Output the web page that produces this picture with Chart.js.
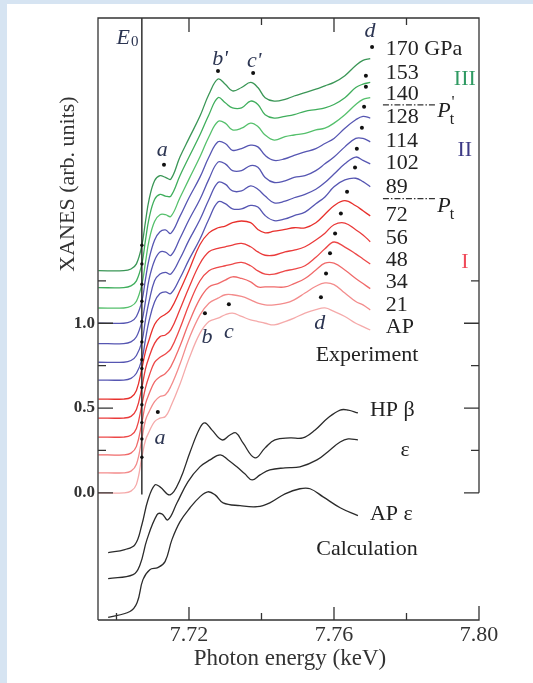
<!DOCTYPE html>
<html>
<head>
<meta charset="utf-8">
<script src="https://cdn.jsdelivr.net/npm/chart.js@4.4.1/dist/chart.umd.min.js"></script>
<style>
  html, body { margin: 0; padding: 0; background: #fff; }
  #frame { position: absolute; left: 0; top: 0; width: 526px; height: 679px;
           border-left: 7px solid #d6e4f2; border-top: 4px solid #d6e4f2; }
  #myChart { position: absolute; left: 0; top: 0; }
</style>
</head>
<body>
<div id="frame"></div>
<canvas id="myChart" width="533" height="683"></canvas>
<script>
// photon energy grid (keV) shared by the experimental spectra
const energy = [7.695, 7.702, 7.704, 7.7055, 7.707, 7.708, 7.709, 7.7105, 7.712, 7.7135, 7.715, 7.7175,
  7.720, 7.723, 7.7255, 7.728, 7.730, 7.732, 7.7345, 7.737, 7.739, 7.741, 7.7435, 7.7465, 7.749,
  7.752, 7.755, 7.7575, 7.760, 7.763, 7.766, 7.768, 7.770];
const E0 = 7.707;

// experiment, pressure labels and vertical offsets (arb. units)
const pressures = ['170 GPa', '153', '140', '128', '114', '102', '89', '72', '56', '48', '34', '21', 'AP'];
const offsets = [1.31, 1.21, 1.09, 1.0, 0.88, 0.77, 0.665, 0.553, 0.441, 0.329, 0.224, 0.118, 0];
const colors = ['#3a9656', '#3fae5c', '#55c06c', '#5656b2', '#5656b2', '#5656b2', '#5656b2',
  '#e8302c', '#ea3a3a', '#ed4848', '#f06a6a', '#f38c8c', '#f5aaaa'];

const x170 = [0,0,0.01,0.04,0.15,0.29,0.42,0.53,0.56,0.55,0.54,0.67,0.78,0.91,1.04,1.13,1.1,1.06,1.08,1.11,1.08,1.02,1.0,1.01,1.03,1.05,1.07,1.09,1.11,1.15,1.21,1.24,1.25];
const x153 = [0,0,0.01,0.04,0.14,0.28,0.41,0.52,0.55,0.54,0.54,0.66,0.77,0.9,1.02,1.12,1.09,1.06,1.06,1.1,1.08,1.02,1.0,1.01,1.02,1.04,1.05,1.06,1.08,1.12,1.18,1.2,1.21];
const x140 = [0,0,0.01,0.04,0.14,0.27,0.4,0.51,0.55,0.55,0.54,0.65,0.76,0.89,1.01,1.1,1.09,1.05,1.06,1.09,1.07,1.02,0.99,1.01,1.02,1.03,1.05,1.06,1.09,1.14,1.2,1.23,1.24];
const x128 = [0,0,0.01,0.04,0.13,0.26,0.38,0.49,0.54,0.55,0.53,0.63,0.74,0.86,0.98,1.07,1.06,1.02,1.03,1.05,1.04,0.99,0.96,0.97,0.99,1.01,1.03,1.06,1.09,1.15,1.2,1.22,1.21];
const x114 = [0,0,0.01,0.04,0.13,0.25,0.38,0.49,0.54,0.54,0.52,0.62,0.73,0.85,0.97,1.07,1.06,1.02,1.02,1.05,1.04,0.98,0.95,0.96,0.98,0.99,1.02,1.06,1.1,1.16,1.21,1.21,1.19];
const x102 = [0,0,0.01,0.04,0.12,0.25,0.36,0.48,0.52,0.53,0.52,0.61,0.72,0.84,0.96,1.06,1.05,1.01,1.01,1.04,1.02,0.98,0.94,0.95,0.97,0.99,1.02,1.06,1.11,1.17,1.21,1.19,1.17];
const x89 = [0,0,0.01,0.04,0.12,0.24,0.35,0.46,0.51,0.52,0.51,0.6,0.71,0.83,0.95,1.05,1.04,1.01,1.01,1.03,1.02,0.97,0.94,0.95,0.97,0.99,1.04,1.08,1.14,1.18,1.19,1.17,1.14];
const x72 = [0,0,0.01,0.05,0.18,0.28,0.35,0.44,0.48,0.5,0.53,0.64,0.76,0.91,0.98,1.01,1.02,1.04,1.05,1.04,1.0,0.98,0.99,1.0,1.01,1.01,1.04,1.09,1.14,1.17,1.14,1.11,1.08];
const x56 = [0,0,0.01,0.05,0.18,0.29,0.36,0.44,0.48,0.49,0.52,0.64,0.77,0.91,0.98,1.0,1.01,1.02,1.03,1.01,0.98,0.96,0.96,0.98,0.99,1.01,1.05,1.09,1.14,1.15,1.11,1.08,1.04];
const x48 = [0,0,0.01,0.05,0.19,0.29,0.36,0.44,0.47,0.49,0.52,0.64,0.78,0.92,0.98,1.0,1.01,1.02,1.03,1.01,0.98,0.96,0.96,0.98,0.99,1.01,1.06,1.11,1.15,1.12,1.08,1.05,1.02];
const x34 = [0,0,0.01,0.05,0.19,0.3,0.36,0.43,0.46,0.48,0.52,0.64,0.78,0.92,0.99,1.01,1.03,1.05,1.04,1.02,0.99,0.99,0.99,0.99,1.01,1.04,1.09,1.13,1.13,1.09,1.04,1.01,0.98];
const x21 = [0,0,0.01,0.05,0.2,0.31,0.36,0.42,0.45,0.46,0.51,0.64,0.79,0.93,1.0,1.03,1.05,1.05,1.04,1.02,1.0,0.99,0.99,1.0,1.02,1.06,1.1,1.12,1.11,1.06,1.01,0.99,0.96];
const xAP = [0,0,0.01,0.05,0.21,0.31,0.36,0.42,0.44,0.45,0.51,0.64,0.79,0.94,1.01,1.03,1.05,1.06,1.04,1.02,1.01,1.0,0.99,1.01,1.03,1.06,1.08,1.09,1.07,1.04,1.0,0.98,0.96];
const spectra = [x170, x153, x140, x128, x114, x102, x89, x72, x56, x48, x34, x21, xAP];

// calculation (energy, value pairs)
const calcHPbeta = [[7.6977,-0.353],[7.7023,-0.335],[7.7051,-0.306],[7.7070,-0.188],[7.7087,-0.041],[7.7106,0.047],[7.7120,0.035],[7.7148,-0.012],[7.7175,0.076],[7.7203,0.241],[7.7230,0.382],[7.7244,0.412],[7.7263,0.371],[7.7291,0.312],[7.7313,0.341],[7.7330,0.353],[7.7349,0.294],[7.7382,0.206],[7.7410,0.265],[7.7437,0.312],[7.7479,0.324],[7.7514,0.324],[7.7548,0.371],[7.7583,0.441],[7.7617,0.488],[7.7639,0.488],[7.7666,0.471]];
const calcEps = [[7.6977,-0.506],[7.7046,-0.482],[7.7065,-0.424],[7.7084,-0.276],[7.7112,-0.129],[7.7125,-0.124],[7.7142,-0.159],[7.7167,-0.059],[7.7197,0.065],[7.7230,0.153],[7.7258,0.194],[7.7286,0.224],[7.7308,0.194],[7.7332,0.153],[7.7354,0.112],[7.7374,0.076],[7.7396,0.106],[7.7423,0.135],[7.7465,0.147],[7.7506,0.153],[7.7553,0.194],[7.7589,0.253],[7.7617,0.3],[7.7639,0.318],[7.7666,0.312]];
const calcAPeps = [[7.6977,-0.735],[7.7037,-0.7],[7.7057,-0.647],[7.7073,-0.512],[7.7092,-0.453],[7.7114,-0.441],[7.7134,-0.406],[7.7153,-0.276],[7.7175,-0.171],[7.7203,-0.088],[7.7230,-0.024],[7.7252,0.006],[7.7272,-0.012],[7.7294,-0.059],[7.7341,-0.076],[7.7388,-0.082],[7.7423,-0.059],[7.7465,-0.006],[7.7506,0.024],[7.7534,0.024],[7.7570,-0.024],[7.7617,-0.088],[7.7666,-0.135]];

// peak markers (dots)
const peakDots = [[7.7705,2.629],[7.7688,2.459],[7.7688,2.394],[7.7683,2.276],[7.7677,2.153],[7.7663,2.029],[7.7658,1.918],[7.7636,1.776],[7.7619,1.647],[7.7603,1.529],[7.7589,1.412],[7.7578,1.294],[7.7564,1.153],
  [7.7280,2.488],[7.7377,2.476],[7.7131,1.935],[7.7244,1.059],[7.7310,1.112],[7.7114,0.476]];

// phase boundaries drawn as dash-dot lines next to the labels
const phaseLines = [2.288, 1.735];

const datasets = [];
spectra.forEach(function(s, i){
  datasets.push({
    data: energy.map((e, k) => ({x: e, y: offsets[i] + s[k]})),
    borderColor: colors[i], borderWidth: 1.3, fill: false, tension: 0.4,
    pointRadius: ctx => energy[ctx.dataIndex] === E0 ? 1.7 : 0,
    pointBackgroundColor: '#111', pointBorderWidth: 0, order: 2
  });
});
[calcHPbeta, calcEps, calcAPeps].forEach(function(c){
  datasets.push({
    data: c.map(p => ({x: p[0], y: p[1]})),
    borderColor: '#2b2b2b', borderWidth: 1.3, fill: false, tension: 0.4,
    pointRadius: 0, order: 2
  });
});
datasets.push({ // E0 line
  data: [{x: E0, y: -0.01}, {x: E0, y: 2.8}],
  borderColor: '#111', borderWidth: 1.3, pointRadius: 0, order: 1
});
datasets.push({
  data: peakDots.map(p => ({x: p[0], y: p[1]})),
  showLine: false, pointRadius: 2, pointBackgroundColor: '#111', pointBorderWidth: 0, order: 0
});

const serif = '"Liberation Serif", "DejaVu Serif", serif';

function txt(ctx, s, px, py, font, color, align) {
  ctx.font = font; ctx.fillStyle = color || '#222';
  ctx.textAlign = align || 'left'; ctx.textBaseline = 'middle';
  ctx.fillText(s, px, py);
}

const decor = {
  id: 'decor',
  afterDatasetsDraw(chart) {
    const ctx = chart.ctx, a = chart.chartArea;
    const X = v => chart.scales.x.getPixelForValue(v);
    const Y = v => chart.scales.y.getPixelForValue(v);
    ctx.save();
    ctx.strokeStyle = '#333'; ctx.lineWidth = 1.3;
    ctx.beginPath();
    ctx.moveTo(a.left, a.bottom); ctx.lineTo(a.left, a.top); ctx.lineTo(a.right, a.top); ctx.lineTo(a.right, Y(0));
    ctx.moveTo(a.left, a.bottom); ctx.lineTo(a.right, a.bottom); ctx.lineTo(a.right, a.bottom - 14);
    // bottom ticks
    [7.70, 7.72, 7.74, 7.76, 7.78].forEach(function(v, i){
      const len = (i % 2 === 1) ? 13 : 7;
      ctx.moveTo(X(v), a.bottom); ctx.lineTo(X(v), a.bottom - len);
    });
    // top ticks
    [7.72, 7.74, 7.76, 7.78].forEach(function(v, i){
      const len = (i % 2 === 0) ? 14 : 7;
      ctx.moveTo(X(v), a.top); ctx.lineTo(X(v), a.top + len);
    });
    // y ticks both sides
    [0, 0.25, 0.5, 0.75, 1.0, 1.25].forEach(function(v, i){
      const len = (i % 2 === 0) ? 15 : 8;
      ctx.moveTo(a.left, Y(v)); ctx.lineTo(a.left + len, Y(v));
      ctx.moveTo(a.right, Y(v)); ctx.lineTo(a.right - len, Y(v));
    });
    ctx.stroke();

    // tick labels and titles
    ['7.72', '7.76', '7.80'].forEach(s => txt(ctx, s, X(+s), a.bottom + 15, '22px ' + serif, '#333', 'center'));
    ['0.0', '0.5', '1.0'].forEach(s => txt(ctx, s, a.left - 3, Y(+s), 'bold 17px ' + serif, '#333', 'right'));
    txt(ctx, 'Photon energy (keV)', 290, a.bottom + 39, '23px ' + serif, '#333', 'center');
    ctx.save();
    ctx.translate(68, 184); ctx.rotate(-Math.PI / 2);
    txt(ctx, 'XANES (arb. units)', 0, 0, '22px ' + serif, '#333', 'center');
    ctx.restore();

    // pressure labels
    const labY = [2.618, 2.476, 2.353, 2.212, 2.076, 1.941, 1.8, 1.635, 1.5, 1.371, 1.241, 1.106, 0.976];
    pressures.forEach((p, i) => txt(ctx, p, X(7.7743), Y(labY[i]), '22px ' + serif, '#222'));
    txt(ctx, 'Experiment', X(7.7691), Y(0.812), '22px ' + serif, '#222', 'center');
    txt(ctx, 'III', X(7.7961), Y(2.441), '22px ' + serif, '#2f9a62', 'center');
    txt(ctx, 'II', X(7.7961), Y(2.018), '22px ' + serif, '#3d3a86', 'center');
    txt(ctx, 'I', X(7.7961), Y(1.359), '22px ' + serif, '#f04a5a', 'center');

    // phase boundaries
    ctx.strokeStyle = '#333'; ctx.lineWidth = 1.2;
    ctx.setLineDash([6, 2, 1.5, 2]);
    phaseLines.forEach(function(v){
      ctx.beginPath(); ctx.moveTo(X(7.7735), Y(v)); ctx.lineTo(X(7.7879), Y(v)); ctx.stroke();
    });
    ctx.setLineDash([]);
    txt(ctx, 'P', X(7.7885), Y(2.25), 'italic 22px ' + serif, '#222');
    txt(ctx, "'", X(7.7924), Y(2.30), '17px ' + serif, '#222');
    txt(ctx, 't', X(7.7919), Y(2.20), '16px ' + serif, '#222');
    txt(ctx, 'P', X(7.7885), Y(1.69), 'italic 22px ' + serif, '#222');
    txt(ctx, 't', X(7.7919), Y(1.64), '16px ' + serif, '#222');

    // peak letters
    const it = 'italic 22px ' + serif, lc = '#2c3552';
    txt(ctx, 'E', X(7.7000), Y(2.682), it, lc);
    txt(ctx, '0', X(7.7040), Y(2.66), '15px ' + serif, lc);
    txt(ctx, 'd', X(7.7699), Y(2.724), it, lc, 'center');
    txt(ctx, "b'", X(7.7286), Y(2.559), it, lc, 'center');
    txt(ctx, "c'", X(7.7380), Y(2.547), it, lc, 'center');
    txt(ctx, 'a', X(7.7126), Y(2.018), it, lc, 'center');
    txt(ctx, 'b', X(7.7250), Y(0.918), it, lc, 'center');
    txt(ctx, 'c', X(7.7310), Y(0.947), it, lc, 'center');
    txt(ctx, 'd', X(7.7561), Y(1.0), it, lc, 'center');
    txt(ctx, 'a', X(7.7120), Y(0.324), it, lc, 'center');

    // calculation labels
    txt(ctx, 'HP \u03b2', X(7.7699), Y(0.488), '22px ' + serif, '#222');
    txt(ctx, '\u03b5', X(7.7796), Y(0.253), '22px ' + serif, '#222', 'center');
    txt(ctx, 'AP \u03b5', X(7.7699), Y(-0.129), '22px ' + serif, '#222');
    txt(ctx, 'Calculation', X(7.7691), Y(-0.335), '22px ' + serif, '#222', 'center');
    ctx.restore();
  }
};

const chart = new Chart(document.getElementById('myChart').getContext('2d'), {
  type: 'line',
  data: { datasets: datasets },
  options: {
    responsive: false, animation: false,
    layout: { padding: { left: 98, right: 54, top: 18, bottom: 63 } },
    plugins: { legend: { display: false }, tooltip: { enabled: false } },
    scales: {
      x: { type: 'linear', min: 7.6949, max: 7.80, display: false },
      y: { type: 'linear', min: -0.75, max: 2.80, display: false }
    }
  },
  plugins: [decor]
});
</script>
</body>
</html>
